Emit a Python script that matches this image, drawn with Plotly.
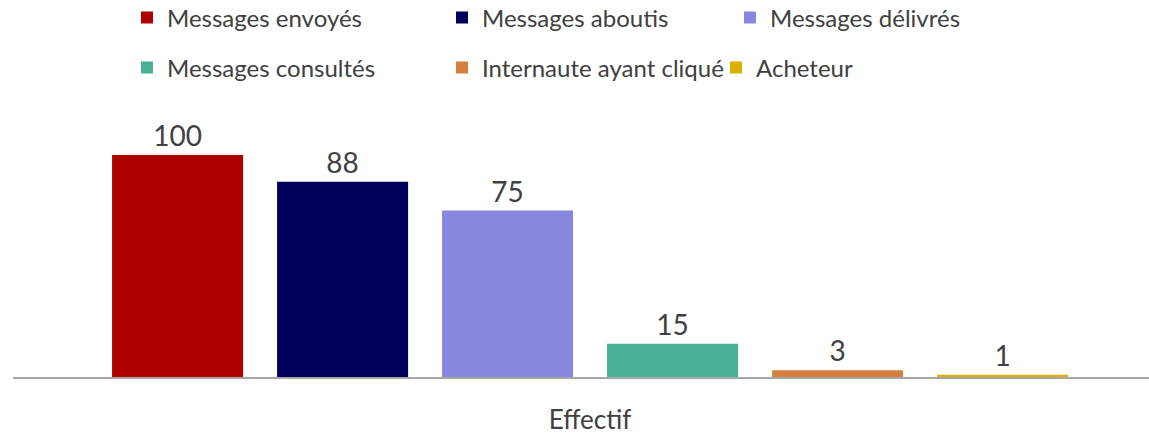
import plotly.graph_objects as go

categories = ["Effectif"]
series_names = ["Messages envoyés", "Messages aboutis", "Messages délivrés",
                "Messages consultés", "Internaute ayant cliqué", "Acheteur"]
series_values = [100, 88, 75, 15, 3, 1]
colors = ["#AE0000", "#00005C", "#8787DD", "#47B095", "#D7803D", "#DDB000"]

# legend placement (container px) : left of text, row centre
legend_pos = [(167, 18), (482, 18), (770, 18), (167, 68), (482, 68), (756, 68)]

W, H = 1149, 439
FONT = "Lato"
TXT = "#404040"

fig = go.Figure()
for i, (name, val, col) in enumerate(zip(series_names, series_values, colors)):
    lg = "legend" if i == 0 else f"legend{i+1}"
    fig.add_trace(go.Bar(
        x=categories, y=[val], name=name,
        marker=dict(color=col, line=dict(width=0)),
        text=[val], textposition="outside", cliponaxis=False,
        textfont=dict(family=FONT, size=28, color=TXT),
        legend=lg,
    ))

layout_legends = {}
for i, (px, py) in enumerate(legend_pos):
    key = "legend" if i == 0 else f"legend{i+1}"
    layout_legends[key] = dict(
        xref="container", yref="container",
        x=(px - 40) / W, y=1 - py / H,
        xanchor="left", yanchor="middle",
        orientation="h", bgcolor="rgba(0,0,0,0)",
        borderwidth=0,
        font=dict(family=FONT, size=24, color=TXT),
    )

fig.update_layout(
    width=W, height=H,
    margin=dict(l=13, r=0, t=100, b=62, autoexpand=False),
    paper_bgcolor="white", plot_bgcolor="white",
    barmode="group", bargap=0.1285, bargroupgap=0.206,
    showlegend=True,
    xaxis=dict(range=[-0.508, 0.492], showline=True, linecolor="#A6A6A6",
               linewidth=1.5, showgrid=False, zeroline=False, ticks="",
               tickfont=dict(family=FONT, size=26, color=TXT),
               ticklabelstandoff=19, automargin=False, fixedrange=True),
    yaxis=dict(range=[0, 124.8], visible=False, automargin=False, fixedrange=True),
    **layout_legends,
)

fig.write_html("out.html", config={"displayModeBar": False},
               post_script="document.body.style.margin='0';")
